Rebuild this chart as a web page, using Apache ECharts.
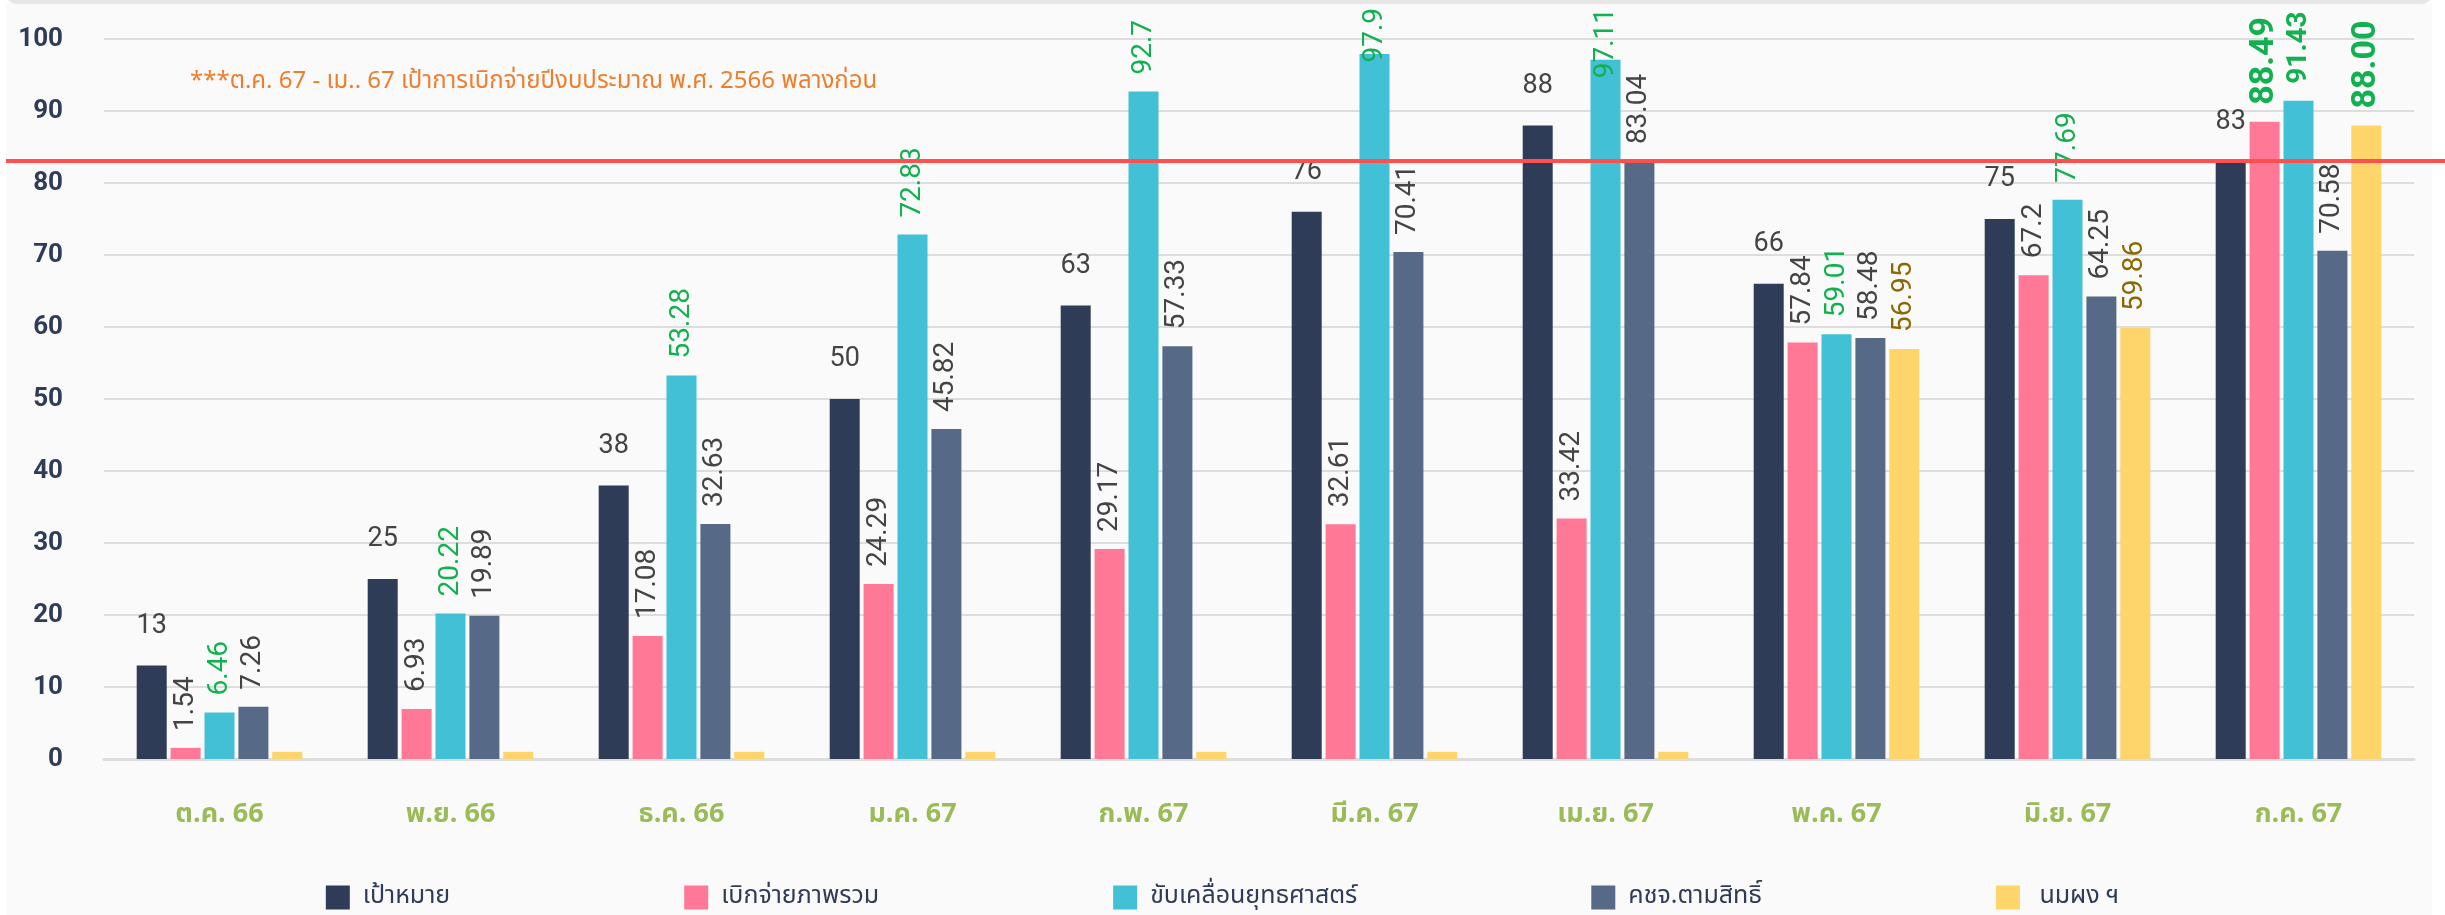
<!DOCTYPE html>
<html>
<head>
<meta charset="utf-8">
<script src="https://cdn.jsdelivr.net/npm/echarts@6/dist/echarts.min.js"></script>
<style>
  html, body { margin: 0; padding: 0; background: #ffffff; overflow: hidden; }
  #topband { position: absolute; left: 5px; top: -20px; width: 2428px; height: 24px; background: #e6e6e6; border-radius: 12px; }
  #panel { position: absolute; left: 6px; top: 4px; width: 2426px; height: 911px; background: #fafafa; }
  #chart { position: absolute; left: 0; top: 0; width: 2445px; height: 915px; }
</style>
</head>
<body>
<div id="panel"></div>
<div id="topband"></div>
<div id="chart"></div>
<script>
// ---- data ----
const categories = ['ต.ค. 66', 'พ.ย. 66', 'ธ.ค. 66', 'ม.ค. 67', 'ก.พ. 67', 'มี.ค. 67', 'เม.ย. 67', 'พ.ค. 67', 'มิ.ย. 67', 'ก.ค. 67'];
const seriesNames = ['เป้าหมาย', 'เบิกจ่ายภาพรวม', 'ขับเคลื่อนยุทธศาสตร์', 'คชจ.ตามสิทธิ์', ' นมผง ฯ'];
const targetValues = [13, 25, 38, 50, 63, 76, 88, 66, 75, 83];
const overallValues = [1.54, 6.93, 17.08, 24.29, 29.17, 32.61, 33.42, 57.84, 67.2, 88.49];
const strategyValues = [6.46, 20.22, 53.28, 72.83, 92.7, 97.9, 97.11, 59.01, 77.69, 91.43];
const rightsValues = [7.26, 19.89, 32.63, 45.82, 57.33, 70.41, 83.04, 58.48, 64.25, 70.58];
const milkValues = [1, 1, 1, 1, 1, 1, 1, 56.95, 59.86, 88.00];
const yTicks = [0, 10, 20, 30, 40, 50, 60, 70, 80, 90, 100];
const referenceLine = 83;
const noteText = '***ต.ค. 67 - เม.. 67 เป้าการเบิกจ่ายปีงบประมาณ พ.ศ. 2566 พลางก่อน';
const highlightIndex = 9;

const colors = ['#2f3c57', '#ff7896', '#42c0d6', '#566987', '#fdd56b'];
const thaiFont = "'Noto Sans Thai', 'Noto Sans Thai Looped', 'Noto Sans', sans-serif";
const numFont = "Roboto, 'Liberation Sans', sans-serif";
const green = '#12b050';
const labelSize = 28, hlSize = 34, labelDist = 17, topLimit = 8;

const chart = echarts.init(document.getElementById('chart'));
const measureCtx = document.createElement('canvas').getContext('2d');
function textLen(txt, size, weight) {
  measureCtx.font = (weight || 'normal') + ' ' + size + 'px ' + numFont;
  return measureCtx.measureText(txt).width;
}

function rotLabel(color, extra) {
  return Object.assign({
    show: true, position: 'top', rotate: 90, align: 'left', verticalAlign: 'middle',
    distance: labelDist, color: color, fontSize: labelSize, fontFamily: numFont
  }, extra || {});
}

const baseOption = {
  animation: false,
  color: colors,
  title: {
    text: noteText, left: 185, top: 66,
    textStyle: { color: '#f07d2c', fontSize: 24, fontWeight: 'normal', fontFamily: thaiFont }
  },
  legend: {
    data: seriesNames, left: 'center', top: 880, itemWidth: 24, itemHeight: 24, itemGap: 234,
    icon: 'rect',
    textStyle: { color: '#2f3c57', fontSize: 25, fontFamily: thaiFont, padding: [0, 0, 0, 8] }
  },
  grid: { left: 104, right: 31, top: 39, bottom: 156, containLabel: false },
  xAxis: {
    type: 'category', data: categories,
    axisLine: { lineStyle: { color: '#dddddd', width: 3 } },
    axisTick: { show: false },
    axisLabel: { color: '#9bbb59', fontSize: 27, fontWeight: 'bold', fontFamily: thaiFont, margin: 44 }
  },
  yAxis: {
    type: 'value', min: yTicks[0], max: yTicks[yTicks.length - 1], interval: yTicks[1] - yTicks[0],
    axisLine: { show: false }, axisTick: { show: false },
    splitLine: { lineStyle: { color: '#dddddd', width: 2 } },
    axisLabel: { color: '#2f3c57', fontSize: 26, fontWeight: 'bold', fontFamily: numFont, margin: 41 }
  }
};
chart.setOption(baseOption);

// build items: highlight style for the last month, and keep rotated labels inside the canvas top
function build(values, hl, fmt) {
  return values.map((v, i) => {
    const item = { value: v };
    const lbl = {};
    let size = labelSize, weight = 'normal';
    if (i === highlightIndex && hl) {
      Object.assign(lbl, hl);
      if (hl.fontSize) size = hl.fontSize;
      if (hl.fontWeight) weight = hl.fontWeight;
    }
    const txt = fmt ? fmt(v) : String(v);
    const barTop = chart.convertToPixel({ yAxisIndex: 0 }, v);
    const top = barTop - labelDist - textLen(txt, size, weight);
    if (top < topLimit) lbl.distance = labelDist - (topLimit - top);
    if (Object.keys(lbl).length) item.label = lbl;
    return item;
  });
}
const milkFmt = v => (v > 1 ? Number(v).toFixed(2) : '');

chart.setOption({
  series: [
    {
      name: seriesNames[0], type: 'bar', barWidth: 30, barGap: '13%',
      data: targetValues,
      label: { show: true, position: 'top', distance: 26, color: '#444444', fontSize: 27, fontFamily: numFont }
    },
    {
      name: seriesNames[1], type: 'bar', barWidth: 30, barGap: '13%',
      data: build(overallValues, { color: green, fontSize: hlSize, fontWeight: 'bold' }),
      label: rotLabel('#444444')
    },
    {
      name: seriesNames[2], type: 'bar', barWidth: 30, barGap: '13%',
      data: build(strategyValues, { fontWeight: 'bold' }),
      label: rotLabel(green)
    },
    {
      name: seriesNames[3], type: 'bar', barWidth: 30, barGap: '13%',
      data: build(rightsValues),
      label: rotLabel('#444444')
    },
    {
      name: seriesNames[4], type: 'bar', barWidth: 30, barGap: '13%',
      data: build(milkValues, { color: green, fontSize: hlSize, fontWeight: 'bold' }, milkFmt),
      label: rotLabel('#8a6a00', { formatter: p => milkFmt(p.value) })
    }
  ]
});

const yRef = Math.round(chart.convertToPixel({ yAxisIndex: 0 }, referenceLine));
chart.setOption({
  graphic: [{
    type: 'line', z: 100,
    shape: { x1: 6, y1: yRef, x2: 2445, y2: yRef },
    style: { stroke: '#ff4f4f', lineWidth: 4 }
  }]
});
</script>
</body>
</html>
